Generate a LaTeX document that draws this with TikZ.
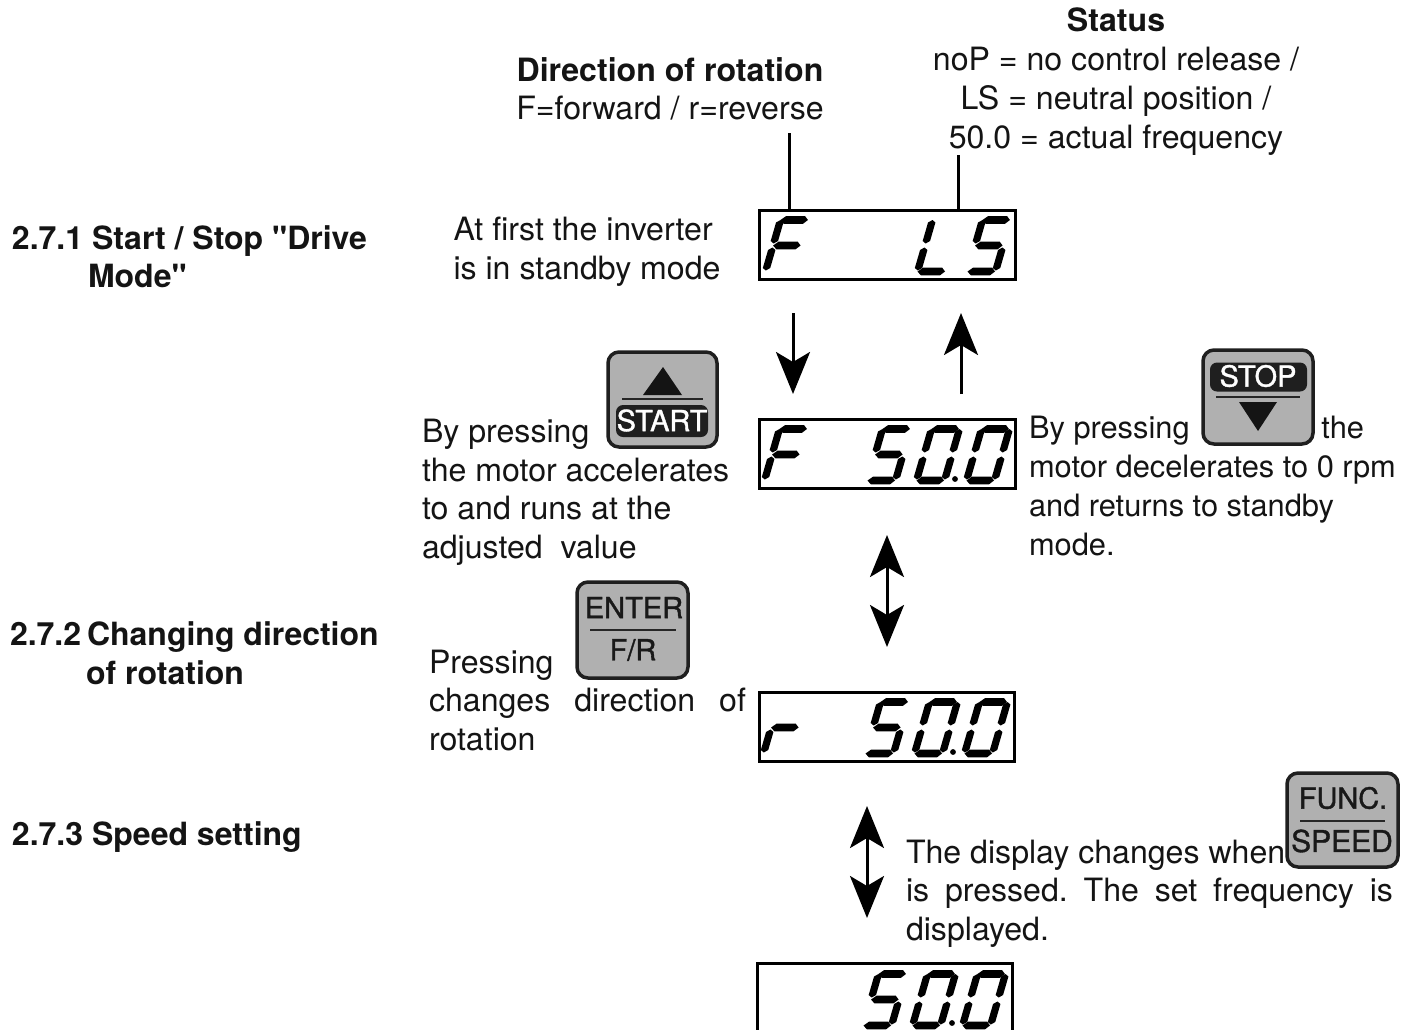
\documentclass[tikz,border=0pt]{standalone}
\usepackage{fontspec}
\setmainfont{TeX Gyre Heros}[Ligatures=TeXOff]
\usetikzlibrary{arrows.meta}
\frenchspacing
\tikzset{
  lcd/.style={draw=black,line width=3pt,minimum width=#1,inner sep=0pt,fill=none},
  lbl/.style={anchor=base west,align=left,inner sep=0pt,outer sep=0pt,text=black!92,font=\fontsize{32.1}{38.7}\selectfont},
  lblc/.style={anchor=base,align=center,inner sep=0pt,outer sep=0pt,text=black!92,font=\fontsize{32.1}{38.8}\selectfont},
  hd/.style={lbl,font=\fontsize{32}{38.4}\selectfont\bfseries},
  btn/.style={draw=black!88,line width=3.5pt,rounded corners=11pt,fill=black!31,inner sep=0pt},
  btnlab/.style={inner sep=0pt,font=\fontsize{29}{29}\selectfont\addfontfeature{FakeBold=1.2},text=black!90},
  btndark/.style={fill=black!88,rounded corners=7pt,inner sep=0pt},
  conn/.style={line width=3pt},
  harrow/.style={line width=3pt,{Stealth[length=42pt,width=34pt,inset=10pt]}-{Stealth[length=42pt,width=34pt,inset=10pt]}},
  sarrow/.style={line width=3pt,-{Stealth[length=42pt,width=34pt,inset=10pt]}}
}
\newcommand\hsegm[1]{\fill (3.5,#1) -- (8,#1+3.9) -- (27,#1+3.9) -- (31,#1) -- (27,#1-3.9) -- (8,#1-3.9) -- cycle;}
\newcommand\vsegm[3]{\fill (#1,#2) -- (#1+3.7,#2+2.5) -- (#1+3.7,#3-2.5) -- (#1,#3) -- (#1-3.7,#3-2.5) -- (#1-3.7,#2+2.5) -- cycle;}
\newcommand\segcodea{\hsegm{55}}
\newcommand\segcodeg{\hsegm{29.5}}
\newcommand\segcoded{\hsegm{3.5}}
\newcommand\segcodef{\vsegm{3.5}{31.5}{55}}
\newcommand\segcodee{\vsegm{3.5}{4.5}{27.5}}
\newcommand\segcodeb{\vsegm{31.5}{31.5}{55}}
\newcommand\segcodec{\vsegm{31.5}{4.5}{27.5}}
\newcommand\lcddigit[3]{%
  \begin{scope}[shift={(#1,#2)},x=1pt,y=1pt,xslant=0.29]
    \foreach \s in {#3}{\csname segcode\s\endcsname}
  \end{scope}}
\begin{document}
\begin{tikzpicture}[x=1pt,y=-1pt]
\useasboundingbox (0,0) rectangle (1408,1029);
\clip (0,0) rectangle (1408,1029);
\fill[white] (0,0) rectangle (1408,1029);

% Displays
\node[lcd=256pt,minimum height=69pt] (d1) at (887.5,244.5) {};
\node[lcd=256pt,minimum height=69pt] (d2) at (887,453.5) {};
\node[lcd=255pt,minimum height=69pt] (d3) at (886.5,726.5) {};
\node[lcd=255pt,minimum height=140pt] (d4) at (884.5,1033) {};

\lcddigit{761}{275}{a,f,e,g}
\lcddigit{913}{275}{f,e,d}
\lcddigit{963}{275}{a,f,g,c,d}

\lcddigit{760}{484}{a,f,e,g}
\lcddigit{863}{484}{a,f,g,c,d}
\lcddigit{912}{484}{a,b,c,d,e,f}
\lcddigit{962}{484}{a,b,c,d,e,f}
\fill (955,479) circle (2.9);

\lcddigit{759}{757}{e,g}
\lcddigit{861}{757}{a,f,g,c,d}
\lcddigit{910}{757}{a,b,c,d,e,f}
\lcddigit{960}{757}{a,b,c,d,e,f}
\fill (953,752) circle (2.9);

\lcddigit{859}{1029}{a,f,g,c,d}
\lcddigit{908}{1029}{a,b,c,d,e,f}
\lcddigit{958}{1029}{a,b,c,d,e,f}
\fill (952,1023) circle (2.9);

% Leaders and arrows
\coordinate (l1) at (789,133);
\coordinate (l2) at (958,155);
\draw[conn] (l1) -- (l1 |- d1.north);
\draw[conn] (l2) -- (l2 |- d1.north);
\coordinate (a1s) at (793,313);
\coordinate (a1e) at (793,394);
\draw[sarrow] (a1s) -- (a1e);
\coordinate (a2s) at (961,394);
\coordinate (a2e) at (961,313);
\draw[sarrow] (a2s) -- (a2e);
\coordinate (a3s) at (887,535);
\coordinate (a3e) at (887,647);
\draw[harrow] (a3s) -- (a3e);
\coordinate (a4s) at (867,806);
\coordinate (a4e) at (867,918);
\draw[harrow] (a4s) -- (a4e);

% START button
\node[btn,minimum width=109pt,minimum height=95pt] (bstart) at (662.5,399.5) {};
\fill[black!92] (663,367) -- (682,395) -- (643,395) -- cycle;
\draw[line width=2.5pt,black!85] (622,399) -- (703,399);
\node[btndark,minimum width=92pt,minimum height=32pt] (pstart) at (662,421) {};
\node[btnlab,text=white] (tstart) at (662,420.5) {START};

% ENTER button
\node[btn,minimum width=111pt,minimum height=96pt] (benter) at (632.5,630) {};
\draw[line width=2.5pt,black!85] (590,630) -- (676,630);
\node[btnlab] (tenter) at (634,607.5) {ENTER};
\node[btnlab] (tfr) at (633,650) {F/R};

% STOP button
\node[btn,minimum width=110pt,minimum height=94pt] (bstop) at (1258,397) {};
\node[btndark,minimum width=97pt,minimum height=29pt] (pstop) at (1258.5,377) {};
\node[btnlab,text=white] (tstop) at (1258,376) {STOP};
\draw[line width=2.5pt,black!85] (1216,397) -- (1300,397);
\fill[black!92] (1239,402) -- (1277,402) -- (1258,431) -- cycle;

% FUNC button
\node[btn,minimum width=111pt,minimum height=94pt] (bfunc) at (1342.5,820) {};
\draw[line width=2.5pt,black!85] (1300,821) -- (1385,821);
\node[btnlab] (tfunc) at (1343,798) {FUNC.};
\node[btnlab,font=\fontsize{30}{30}\selectfont\addfontfeature{FakeBold=1.2}] (tspeed) at (1342,841) {SPEED};

% Labels
\node[lblc,font=\fontsize{32.1}{38.8}\selectfont\bfseries] (status) at (1116,31) {Status};
\node[lblc] (statl1) at (1116,70) {noP = no control release /};
\node[lblc] (statl2) at (1116,109) {LS = neutral position /};
\node[lblc] (statl3) at (1116,148) {50.0 = actual frequency};
\node[lblc,font=\fontsize{32.1}{38.8}\selectfont\bfseries] (dirh) at (670,81) {Direction of rotation};
\node[lblc] (dirt) at (670,119.5) {F=forward / r=reverse};

\node[hd] (h1) at (12,249) {2.7.1 Start / Stop "Drive};
\node[hd] (h1b) at (88,287) {Mode"};
\node[hd] (h2) at (10,645) {2.7.2};
\node[hd] (h2a) at (87,645) {Changing direction};
\node[hd] (h2b) at (86,684) {of rotation};
\node[hd] (h3) at (12,845) {2.7.3 Speed setting};

\node[lbl] (t1) at (453.5,279.5) {At first the inverter\\is in standby mode};
\node[lbl] (t2) at (422,558.5) {By pressing\\the motor accelerates\\to and runs at the\\adjusted\ \ value};
\node[lbl,font=\fontsize{30.8}{38.7}\selectfont] (t3) at (1029,555) {\makebox[335pt][s]{By pressing\hfill the}\\motor decelerates to 0 rpm\\and returns to standby\\mode.};
\node[lbl] (t4) at (429,750.5) {Pressing\\\makebox[317pt][s]{changes direction of}\\rotation};
\node[lbl] (t5) at (906,940.5) {The display changes when\\\makebox[487pt][s]{is pressed. The set frequency is}\\displayed.};
\end{tikzpicture}
\end{document}
